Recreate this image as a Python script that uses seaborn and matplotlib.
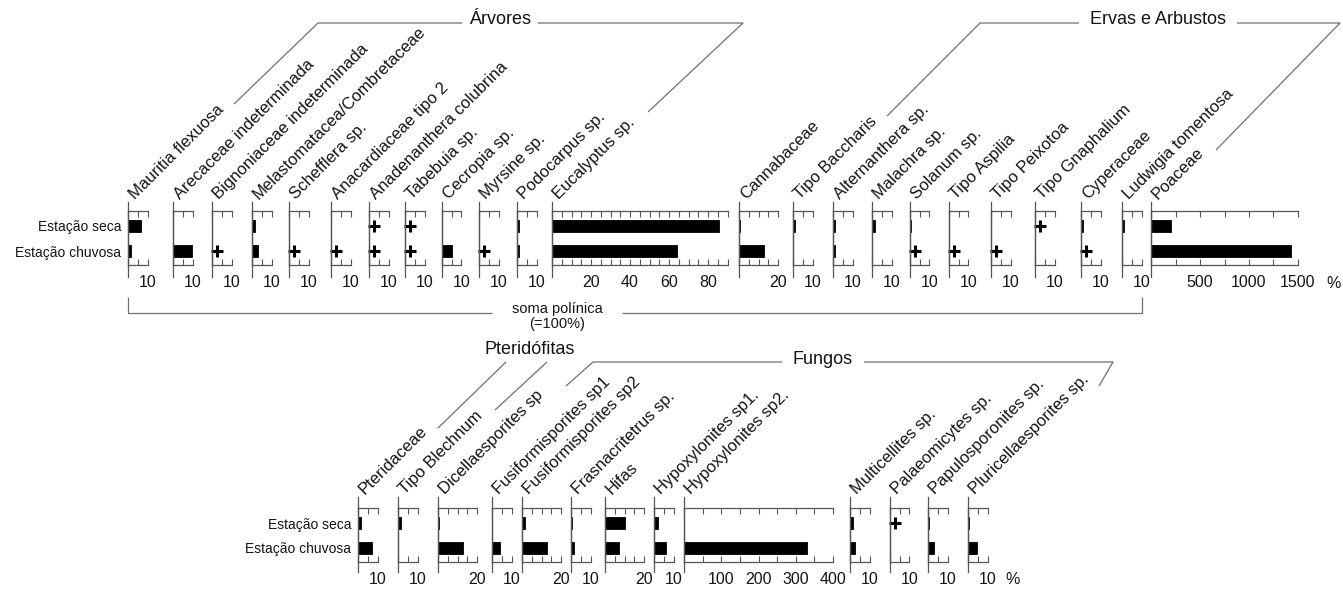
import matplotlib
matplotlib.use("Agg")

import matplotlib.pyplot as plt
import seaborn as sns
import pandas as pd
import numpy as np

# ---- data -----------------------------------------------------------------
PLUS = "+"  # taxon present, below counting threshold
seasons = ["Estação seca", "Estação chuvosa"]

top_taxa = ["Mauritia flexuosa", "Arecaceae indeterminada", "Bignoniaceae indeterminada",
            "Melastomatacea/Combretaceae", "Schefflera sp.", "Anacardiaceae tipo 2",
            "Anadenanthera colubrina", "Tabebuia sp.", "Cecropia sp.", "Myrsine sp.",
            "Podocarpus sp.", "Eucalyptus sp.", "Cannabaceae", "Tipo Baccharis",
            "Alternanthera sp.", "Malachra sp.", "Solanum sp.", "Tipo Aspilia",
            "Tipo Peixotoa", "Tipo Gnaphalium", "Cyperaceae", "Ludwigia tomentosa", "Poaceae"]
top_seca = [6.5, 0, 0, 1.5, 0, 0, PLUS, PLUS, 0, 0, 0.8, 85.5, 0.6, 0.8,
            1, 1.5, 0.6, 0, 0, PLUS, 1, 1, 204]
top_chuvosa = [1.5, 9.5, PLUS, 3, PLUS, PLUS, PLUS, PLUS, 5, PLUS, 1, 64, 12.8, 0,
               1, 0, PLUS, PLUS, PLUS, 0, PLUS, 0, 1428]
top_xmax = [10] * 11 + [90, 20] + [10] * 9 + [1500]
top_tick = [5] * 22 + [250]
top_label = [10] * 11 + [20, 20] + [10] * 9 + [500]

bottom_taxa = ["Pteridaceae", "Tipo Blechnum", "Dicellaesporites sp", "Fusiformisporites sp1",
               "Fusiformisporites sp2", "Frasnacritetrus sp.", "Hifas", "Hypoxylonites sp1.",
               "Hypoxylonites sp2.", "Multicellites sp.", "Palaeomicytes sp.",
               "Papulosporonites sp.", "Pluricellaesporites sp."]
bottom_seca = [1.5, 1.5, 0.6, 0, 1.5, 0.6, 10, 2, 0, 1.5, PLUS, 0.6, 0.6]
bottom_chuvosa = [7, 0, 13, 4, 13, 1.5, 7, 6, 330, 2.5, 0, 3, 4.5]
bottom_xmax = [10, 10, 20, 10, 20, 10, 20, 10, 400, 10, 10, 10, 10]
bottom_tick = [5] * 8 + [50] + [5] * 4
bottom_label = [10, 10, 20, 10, 20, 10, 20, 10, 100, 10, 10, 10, 10]

# ---- layout (pixels) ------------------------------------------------------
W, H = 1343, 590
PCT = 1.95  # px per percent
top_left = [128, 173, 212, 252, 289, 331, 369, 405, 442, 479, 517, 552, 739,
            793, 833, 872, 910, 949, 991, 1035, 1081, 1122, 1151]
top_scale = [PCT] * 22 + [147 / 1500]
bottom_left = [358, 398, 438, 492, 522, 571, 605, 654, 684, 850, 890, 928, 968]
bottom_scale = [PCT] * 8 + [149 / 400] + [PCT] * 4
PANEL_H = 54
INK = "#141414"
AXC = "#555555"
LINEC = "#707070"

plt.rcParams["font.family"] = ["Liberation Sans", "DejaVu Sans"]

fig = plt.figure(figsize=(W / 100, H / 100), dpi=100)


def fx(x):
    return x / W


def fy(y):
    return 1 - y / H


def panel(left, top, scale, xmax, tick, lab, seca, chuvosa, name, first, ext):
    width = xmax * scale
    ax = fig.add_axes([fx(left), fy(top + PANEL_H), width / W, PANEL_H / H])
    vals = [0 if v == PLUS else v for v in (seca, chuvosa)]
    df = pd.DataFrame({"estacao": seasons, "valor": vals})
    sns.barplot(data=df, x="valor", y="estacao", order=seasons, orient="h",
                color="black", saturation=1, width=0.47, edgecolor="black",
                linewidth=0.6, ax=ax)
    for i, v in enumerate((seca, chuvosa)):
        if v == PLUS:
            ax.plot(5 / scale, i, marker="+", ms=9, mew=2.2, color="black",
                    clip_on=False)
    ax.set_xlim(0, xmax)
    ax.set_ylim(1.56, -0.6)
    ticks = np.arange(0, xmax + 1e-9, tick)
    ax.set_xticks(ticks)
    ax.set_xticklabels([f"{t:g}" if t > 0 and t % lab == 0 else "" for t in ticks])
    ax.tick_params(axis="x", direction="in", top=True, bottom=True, length=4,
                   width=0.8, color=AXC, labelsize=11.5, labelcolor=INK, pad=7)
    if first:
        ax.tick_params(axis="y", length=0, pad=5, labelsize=10, labelcolor=INK)
    else:
        ax.set_yticks([])
    ax.set_xlabel("")
    ax.set_ylabel("")
    ax.spines["right"].set_visible(False)
    for s in ("left", "top", "bottom"):
        ax.spines[s].set_color(AXC)
        ax.spines[s].set_linewidth(0.9)
    ax.axvline(0, ymin=-ext[1] / PANEL_H, ymax=1 + ext[0] / PANEL_H, color=AXC,
               lw=0.9, clip_on=False)
    fig.text(fx(left + 7), fy(top - ext[0] - 2), name, rotation=45,
             rotation_mode="anchor", ha="left", va="baseline", fontsize=12,
             color=INK)
    return ax


for i, name in enumerate(top_taxa):
    panel(top_left[i], 211, top_scale[i], top_xmax[i], top_tick[i], top_label[i],
          top_seca[i], top_chuvosa[i], name, i == 0, (9, 12))

for i, name in enumerate(bottom_taxa):
    panel(bottom_left[i], 508, bottom_scale[i], bottom_xmax[i], bottom_tick[i],
          bottom_label[i], bottom_seca[i], bottom_chuvosa[i], name, i == 0, (11, 10))

fig.text(fx(1326), fy(284), "%", fontsize=11.5, color=INK, va="center")
fig.text(fx(1005), fy(580), "%", fontsize=11.5, color=INK, va="center")

# ---- group headers / brackets (pixel overlay) -----------------------------
ov = fig.add_axes([0, 0, 1, 1])
ov.set_xlim(0, W)
ov.set_ylim(H, 0)
ov.axis("off")
ov.patch.set_alpha(0)


def bracket(pts):
    xs, ys = zip(*pts)
    ov.plot(xs, ys, color=LINEC, lw=0.9, solid_capstyle="butt")


ov.text(500, 20, "Árvores", ha="center", va="center", fontsize=13, color=INK)
bracket([(234, 104), (318, 23), (462, 23)])
bracket([(538, 23), (743, 23), (648, 112)])

ov.text(1158, 20, "Ervas e Arbustos", ha="center", va="center", fontsize=13, color=INK)
bracket([(887, 116), (980, 23), (1079, 23)])
bracket([(1237, 23), (1340, 23), (1216, 150)])

ov.text(557, 309, "soma polínica", ha="center", va="center", fontsize=10.5, color=INK)
ov.text(557, 324, "(=100%)", ha="center", va="center", fontsize=10.5, color=INK)
bracket([(128, 297), (128, 313), (492, 313)])
bracket([(622, 313), (1142, 313), (1142, 297)])

ov.text(530, 350, "Pteridófitas", ha="center", va="center", fontsize=13, color=INK)
bracket([(438, 428), (506, 362)])
bracket([(495, 410), (547, 362)])

ov.text(823, 360, "Fungos", ha="center", va="center", fontsize=13, color=INK)
bracket([(566, 386), (593, 362), (782, 362)])
bracket([(864, 362), (1113, 362), (1099, 386)])

fig.savefig("out.png", dpi=100)
